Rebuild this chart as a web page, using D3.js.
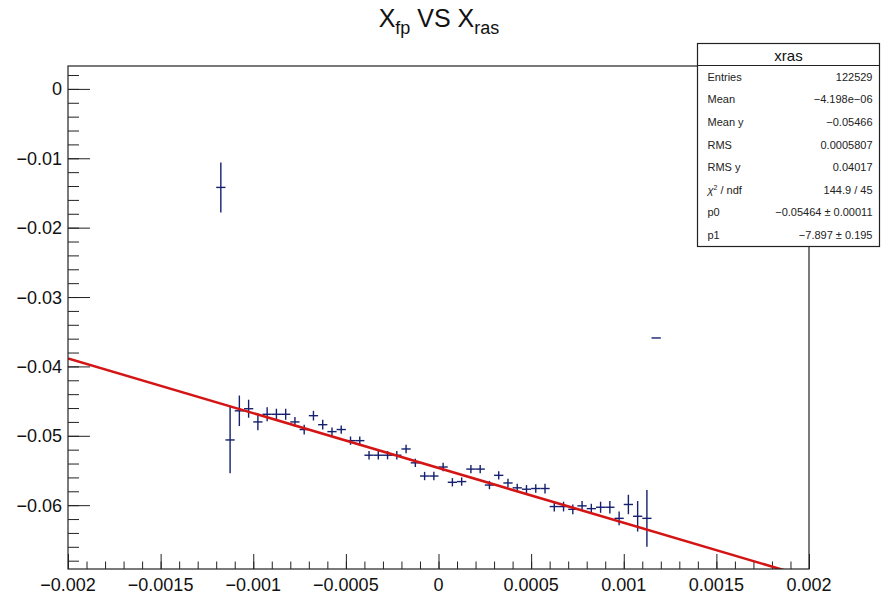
<!DOCTYPE html>
<html>
<head>
<meta charset="utf-8">
<script src="https://cdn.jsdelivr.net/npm/d3@7"></script>
<style>
  html, body { margin: 0; padding: 0; background: #fff; }
  svg { display: block; font-family: "Liberation Sans", Arial, Helvetica, sans-serif; }
</style>
</head>
<body>
<svg id="chart" width="881" height="596"></svg>
<script>
// Profile of x_fp against x_ras: bin centres, mean values and errors
const binWidth = 0.00005;
const binCenters = [
  -0.001175,
  -0.001125, -0.001075, -0.001025, -0.000975, -0.000925, -0.000875, -0.000825, -0.000775,
  -0.000725, -0.000675, -0.000625, -0.000575, -0.000525, -0.000475, -0.000425, -0.000375,
  -0.000325, -0.000275, -0.000225, -0.000175, -0.000125, -0.000075, -0.000025,
   0.000025,  0.000075,  0.000125,  0.000175,  0.000225,  0.000275,  0.000325,  0.000375,
   0.000425,  0.000475,  0.000525,  0.000575,  0.000625,  0.000675,  0.000725,  0.000775,
   0.000825,  0.000875,  0.000925,  0.000975,  0.001025,  0.001075,  0.001125,
   0.001175
];
const binMeans = [
  -0.0142,
  -0.0506, -0.0464, -0.0461, -0.0480, -0.0469, -0.0469, -0.0469, -0.0480,
  -0.0491, -0.0471, -0.0484, -0.0494, -0.0491, -0.0507, -0.0507, -0.0528,
  -0.0528, -0.0528, -0.0528, -0.0519, -0.0539, -0.0558, -0.0558,
  -0.0545, -0.0567, -0.0566, -0.0548, -0.0548, -0.0571, -0.0557, -0.0568,
  -0.0575, -0.0577, -0.0576, -0.0576, -0.0602, -0.0602, -0.0606, -0.0601,
  -0.0605, -0.0603, -0.0603, -0.0619, -0.0599, -0.0616, -0.0619,
  -0.0359
];
const binErrors = [
  0.0036,
  0.0048, 0.0022, 0.0013, 0.0012, 0.0010, 0.0008, 0.0008, 0.0007,
  0.0007, 0.0007, 0.0007, 0.0006, 0.0006, 0.0006, 0.0006, 0.0006,
  0.0006, 0.0006, 0.0006, 0.0006, 0.0006, 0.0006, 0.0006,
  0.0006, 0.0006, 0.0006, 0.0006, 0.0006, 0.0006, 0.0006, 0.0006,
  0.0006, 0.0006, 0.0006, 0.0007, 0.0007, 0.0007, 0.0007, 0.0007,
  0.0007, 0.0008, 0.0009, 0.0010, 0.0014, 0.0022, 0.0041,
  0.0
];

// Linear fit p0 + p1*x
const fitP0 = -0.05464;
const fitP1 = -7.897;

// Axis ticks
const xMajorTicks = [-0.002, -0.0015, -0.001, -0.0005, 0, 0.0005, 0.001, 0.0015, 0.002];
const xTickLabels = ["\u22120.002", "\u22120.0015", "\u22120.001", "\u22120.0005", "0", "0.0005", "0.001", "0.0015", "0.002"];
const yMajorTicks = [0, -0.01, -0.02, -0.03, -0.04, -0.05, -0.06];
const yTickLabels = ["0", "\u22120.01", "\u22120.02", "\u22120.03", "\u22120.04", "\u22120.05", "\u22120.06"];

// Statistics box
const statNames = ["Entries", "Mean", "Mean y", "RMS", "RMS y", "CHI2", "p0", "p1"];
const statValues = ["122529", "\u22124.198e\u221206", "\u22120.05466", "0.0005807", "0.04017",
                    "144.9 / 45", "\u22120.05464 \u00b1 0.00011", "\u22127.897 \u00b1 0.195"];

const svg = d3.select("#chart");
const frame = { left: 68, right: 809, top: 66, bottom: 569 };

const x = d3.scaleLinear().domain([-0.002, 0.002]).range([frame.left, frame.right]);
const y = d3.scaleLinear().domain([-0.0692, 0.0033]).range([frame.bottom, frame.top]);

svg.append("defs").append("clipPath").attr("id", "frameClip")
  .append("rect")
  .attr("x", frame.left).attr("y", frame.top)
  .attr("width", frame.right - frame.left).attr("height", frame.bottom - frame.top);

// Title: X_fp VS X_ras
const title = svg.append("text")
  .attr("x", 439).attr("y", 27)
  .attr("text-anchor", "middle")
  .attr("font-size", 25)
  .attr("fill", "#111");
title.append("tspan").text("X");
title.append("tspan").attr("font-size", 18).attr("dy", 7).text("fp");
title.append("tspan").attr("dy", -7).text(" VS X");
title.append("tspan").attr("font-size", 18).attr("dy", 7).text("ras");

// Minor and major ticks, x axis
const xMinor = d3.range(-20, 21).map(i => i * 0.0001);
svg.append("g")
  .attr("transform", `translate(0,${frame.bottom})`)
  .call(d3.axisTop(x).tickValues(xMinor).tickSize(7.5).tickFormat(""))
  .call(g => g.select(".domain").remove())
  .call(g => g.selectAll("line").attr("stroke", "#222"));
svg.append("g")
  .attr("transform", `translate(0,${frame.bottom})`)
  .call(d3.axisTop(x).tickValues(xMajorTicks).tickSize(15).tickFormat(""))
  .call(g => g.select(".domain").remove())
  .call(g => g.selectAll("line").attr("stroke", "#222"));
svg.append("g").selectAll("text").data(xMajorTicks).join("text")
  .attr("x", d => x(d)).attr("y", frame.bottom + 22)
  .attr("text-anchor", "middle")
  .attr("font-size", 18).attr("fill", "#111")
  .text((d, i) => xTickLabels[i]);

// Minor and major ticks, y axis
const yMinor = d3.range(-34, 2).map(i => i * 0.002);
svg.append("g")
  .attr("transform", `translate(${frame.left},0)`)
  .call(d3.axisRight(y).tickValues(yMinor).tickSize(11).tickFormat(""))
  .call(g => g.select(".domain").remove())
  .call(g => g.selectAll("line").attr("stroke", "#222"));
svg.append("g")
  .attr("transform", `translate(${frame.left},0)`)
  .call(d3.axisRight(y).tickValues(yMajorTicks).tickSize(22).tickFormat(""))
  .call(g => g.select(".domain").remove())
  .call(g => g.selectAll("line").attr("stroke", "#222"));
svg.append("g").selectAll("text").data(yMajorTicks).join("text")
  .attr("x", frame.left - 6).attr("y", d => y(d))
  .attr("dy", "0.36em")
  .attr("text-anchor", "end")
  .attr("font-size", 18).attr("fill", "#111")
  .text((d, i) => yTickLabels[i]);

// Profile points with error bars
const points = binCenters.map((c, i) => ({ c, m: binMeans[i], e: binErrors[i] }));
const marks = svg.append("g").attr("clip-path", "url(#frameClip)")
  .attr("stroke", "#15206e").attr("stroke-width", 1.4);
marks.selectAll("line.h").data(points).join("line").attr("class", "h")
  .attr("x1", d => x(d.c - binWidth / 2)).attr("x2", d => x(d.c + binWidth / 2))
  .attr("y1", d => y(d.m)).attr("y2", d => y(d.m));
marks.selectAll("line.v").data(points.filter(d => d.e > 0)).join("line").attr("class", "v")
  .attr("x1", d => x(d.c)).attr("x2", d => x(d.c))
  .attr("y1", d => y(d.m - d.e)).attr("y2", d => y(d.m + d.e));

// Fit line over the full x range
const fitX = x.domain();
svg.append("path")
  .attr("clip-path", "url(#frameClip)")
  .datum(fitX.map(v => [v, fitP0 + fitP1 * v]))
  .attr("d", d3.line().x(d => x(d[0])).y(d => y(d[1])))
  .attr("fill", "none").attr("stroke", "#d41515").attr("stroke-width", 2.6);

// Frame
svg.append("rect")
  .attr("x", frame.left).attr("y", frame.top)
  .attr("width", frame.right - frame.left).attr("height", frame.bottom - frame.top)
  .attr("fill", "none").attr("stroke", "#222").attr("stroke-width", 1.2);

// Statistics box
const box = { x: 697.5, y: 43.5, w: 182, h: 203, titleH: 22 };
const stats = svg.append("g");
stats.append("rect")
  .attr("x", box.x).attr("y", box.y).attr("width", box.w).attr("height", box.h)
  .attr("fill", "#fff").attr("stroke", "#222").attr("stroke-width", 1.2);
stats.append("line")
  .attr("x1", box.x).attr("x2", box.x + box.w)
  .attr("y1", box.y + box.titleH).attr("y2", box.y + box.titleH)
  .attr("stroke", "#222").attr("stroke-width", 1.2);
stats.append("text")
  .attr("x", box.x + box.w / 2).attr("y", box.y + 17)
  .attr("text-anchor", "middle").attr("font-size", 15).attr("fill", "#111")
  .text("xras");
const rowH = (box.h - box.titleH) / statNames.length;
statNames.forEach((name, i) => {
  const cy = box.y + box.titleH + rowH * (i + 0.5);
  const t = stats.append("text")
    .attr("x", box.x + 10).attr("y", cy).attr("dy", "0.35em")
    .attr("font-size", 11).attr("fill", "#222");
  if (name === "CHI2") {
    t.append("tspan").attr("font-style", "italic").text("\u03c7");
    t.append("tspan").attr("font-size", 7).attr("dy", -4).text("2");
    t.append("tspan").attr("dy", 4).text(" / ndf");
  } else {
    t.text(name);
  }
  stats.append("text")
    .attr("x", box.x + box.w - 7).attr("y", cy).attr("dy", "0.35em")
    .attr("text-anchor", "end").attr("font-size", 11).attr("fill", "#222")
    .text(statValues[i]);
});
</script>
</body>
</html>
